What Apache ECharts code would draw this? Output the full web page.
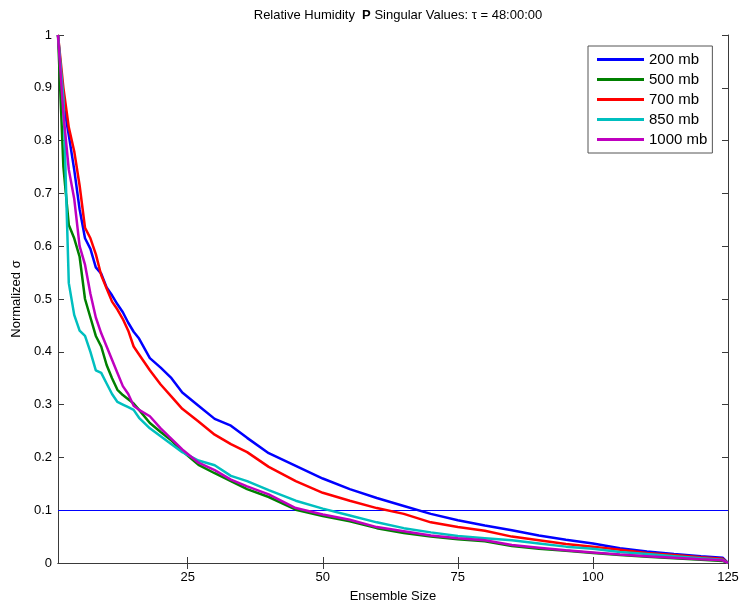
<!DOCTYPE html>
<html>
<head>
<meta charset="utf-8">
<script src="https://cdn.jsdelivr.net/npm/echarts@6/dist/echarts.min.js"></script>
<style>
    html, body { margin: 0; padding: 0; background: #fff; }
    #chart { width: 742px; height: 608px; }
</style>
</head>
<body>
<div id="chart"></div>
<script>
var ensembleSize = [1, 2, 3, 4, 5, 6, 7, 8, 9, 10, 11, 12, 13, 14, 15, 16, 18, 20, 22, 24, 27, 30, 33, 36, 40, 45, 50, 55, 60, 65, 70, 75, 80, 85, 90, 95, 100, 105, 110, 115, 120, 124, 125];

var seriesNames = ['200 mb', '500 mb', '700 mb', '850 mb', '1000 mb'];

var mb200 = [1.0, 0.87, 0.81, 0.745, 0.67, 0.615, 0.595, 0.56, 0.548, 0.522, 0.507, 0.49, 0.475, 0.455, 0.438, 0.425, 0.388, 0.37, 0.35, 0.323, 0.298, 0.273, 0.26, 0.237, 0.208, 0.184, 0.16, 0.14, 0.123, 0.108, 0.093, 0.081, 0.071, 0.062, 0.052, 0.044, 0.037, 0.028, 0.022, 0.017, 0.013, 0.010, 0.0];
var mb500 = [1.0, 0.75, 0.64, 0.615, 0.58, 0.50, 0.465, 0.43, 0.41, 0.375, 0.35, 0.328, 0.318, 0.31, 0.302, 0.29, 0.265, 0.248, 0.232, 0.212, 0.186, 0.17, 0.155, 0.14, 0.125, 0.101, 0.089, 0.079, 0.066, 0.057, 0.05, 0.045, 0.041, 0.032, 0.027, 0.023, 0.019, 0.015, 0.012, 0.009, 0.006, 0.004, 0.0];
var mb700 = [1.0, 0.90, 0.825, 0.78, 0.715, 0.635, 0.615, 0.585, 0.545, 0.52, 0.495, 0.48, 0.462, 0.44, 0.41, 0.395, 0.365, 0.338, 0.315, 0.292, 0.268, 0.243, 0.225, 0.21, 0.182, 0.155, 0.133, 0.118, 0.104, 0.093, 0.077, 0.068, 0.061, 0.05, 0.043, 0.036, 0.031, 0.025, 0.019, 0.015, 0.011, 0.008, 0.0];
var mb850 = [1.0, 0.88, 0.53, 0.47, 0.44, 0.43, 0.40, 0.365, 0.36, 0.34, 0.32, 0.305, 0.30, 0.295, 0.29, 0.275, 0.255, 0.24, 0.225, 0.21, 0.194, 0.185, 0.165, 0.155, 0.138, 0.118, 0.103, 0.09, 0.077, 0.066, 0.058, 0.051, 0.047, 0.043, 0.037, 0.031, 0.027, 0.021, 0.017, 0.013, 0.009, 0.006, 0.0];
var mb1000 = [1.0, 0.85, 0.745, 0.69, 0.60, 0.565, 0.51, 0.465, 0.435, 0.41, 0.385, 0.36, 0.335, 0.32, 0.298, 0.29, 0.278, 0.255, 0.235, 0.215, 0.19, 0.176, 0.158, 0.145, 0.13, 0.104, 0.092, 0.082, 0.068, 0.06, 0.052, 0.047, 0.043, 0.034, 0.029, 0.024, 0.02, 0.016, 0.013, 0.01, 0.007, 0.005, 0.0];

var seriesColors = ['#0000ff', '#008000', '#ff0000', '#00bfbf', '#bf00bf'];

var xTicks = [25, 50, 75, 100, 125];
var threshold = 0.1;

var font = 'Liberation Sans, Arial, sans-serif';
var axisColor = '#3a3a3a';

var seriesValues = [mb200, mb500, mb700, mb850, mb1000];

var seriesArr = seriesValues.map(function (vals, i) {
    return {
        name: seriesNames[i],
        type: 'line',
        xAxisIndex: 0,
        yAxisIndex: 0,
        showSymbol: false,
        symbol: 'none',
        lineStyle: { color: seriesColors[i], width: 2.5 },
        itemStyle: { color: seriesColors[i] },
        data: ensembleSize.map(function (x, k) { return [x, vals[k]]; }),
        z: 3 + i
    };
});

// horizontal reference line at 0.1
seriesArr[0].markLine = {
    silent: true,
    symbol: 'none',
    label: { show: false },
    lineStyle: { color: '#0000ff', width: 1, type: 'solid' },
    data: [{ yAxis: threshold }],
    z: 2
};

var chart = echarts.init(document.getElementById('chart'));
chart.setOption({
    animation: false,
    backgroundColor: '#fff',
    title: {
        text: 'Relative Humidity  {b|P} Singular Values: τ = 48:00:00',
        left: 393,
        textAlign: 'center',
        top: 4,
        textStyle: {
            fontFamily: font,
            fontSize: 13,
            fontWeight: 'normal',
            color: '#000',
            rich: {
                b: { fontFamily: font, fontSize: 13, fontWeight: 'bold', color: '#000' }
            }
        }
    },
    grid: { left: 58, right: 14, top: 35, bottom: 45, containLabel: false },
    legend: {
        orient: 'vertical',
        left: 588,
        top: 46,
        padding: [6, 5, 6, 9],
        itemGap: 5,
        itemWidth: 47,
        itemHeight: 3,
        icon: 'rect',
        backgroundColor: '#fff',
        borderColor: '#555',
        borderWidth: 1,
        borderRadius: 0,
        textStyle: { fontFamily: font, fontSize: 15, color: '#000', padding: [0, 0, 0, 0] },
        data: seriesNames
    },
    xAxis: [{
        type: 'value',
        min: 1,
        max: 125,
        name: 'Ensemble Size',
        nameLocation: 'middle',
        nameGap: 27,
        nameTextStyle: { fontFamily: font, fontSize: 13, color: '#000' },
        axisLine: { show: true, lineStyle: { color: axisColor, width: 1 } },
        axisTick: { show: true, inside: true, length: 6, customValues: xTicks, lineStyle: { color: axisColor } },
        axisLabel: { show: true, customValues: xTicks, fontFamily: font, fontSize: 13, color: '#000', margin: 8 },
        splitLine: { show: false }
    }, {
        type: 'value',
        position: 'top',
        min: 1,
        max: 125,
        axisLine: { show: true, lineStyle: { color: axisColor, width: 1 } },
        axisTick: { show: true, inside: true, length: 6, customValues: xTicks, lineStyle: { color: axisColor } },
        axisLabel: { show: false },
        splitLine: { show: false }
    }],
    yAxis: [{
        type: 'value',
        min: 0,
        max: 1,
        interval: 0.1,
        name: 'Normalized σ',
        nameLocation: 'middle',
        nameGap: 32,
        nameTextStyle: { fontFamily: font, fontSize: 13, color: '#000' },
        axisLine: { show: true, lineStyle: { color: axisColor, width: 1 } },
        axisTick: { show: true, inside: true, length: 6, lineStyle: { color: axisColor } },
        axisLabel: { fontFamily: font, fontSize: 13, color: '#000', margin: 6 },
        splitLine: { show: false }
    }, {
        type: 'value',
        position: 'right',
        min: 0,
        max: 1,
        interval: 0.1,
        axisLine: { show: true, lineStyle: { color: axisColor, width: 1 } },
        axisTick: { show: true, inside: true, length: 6, lineStyle: { color: axisColor } },
        axisLabel: { show: false },
        splitLine: { show: false }
    }],
    series: seriesArr
});
</script>
</body>
</html>
